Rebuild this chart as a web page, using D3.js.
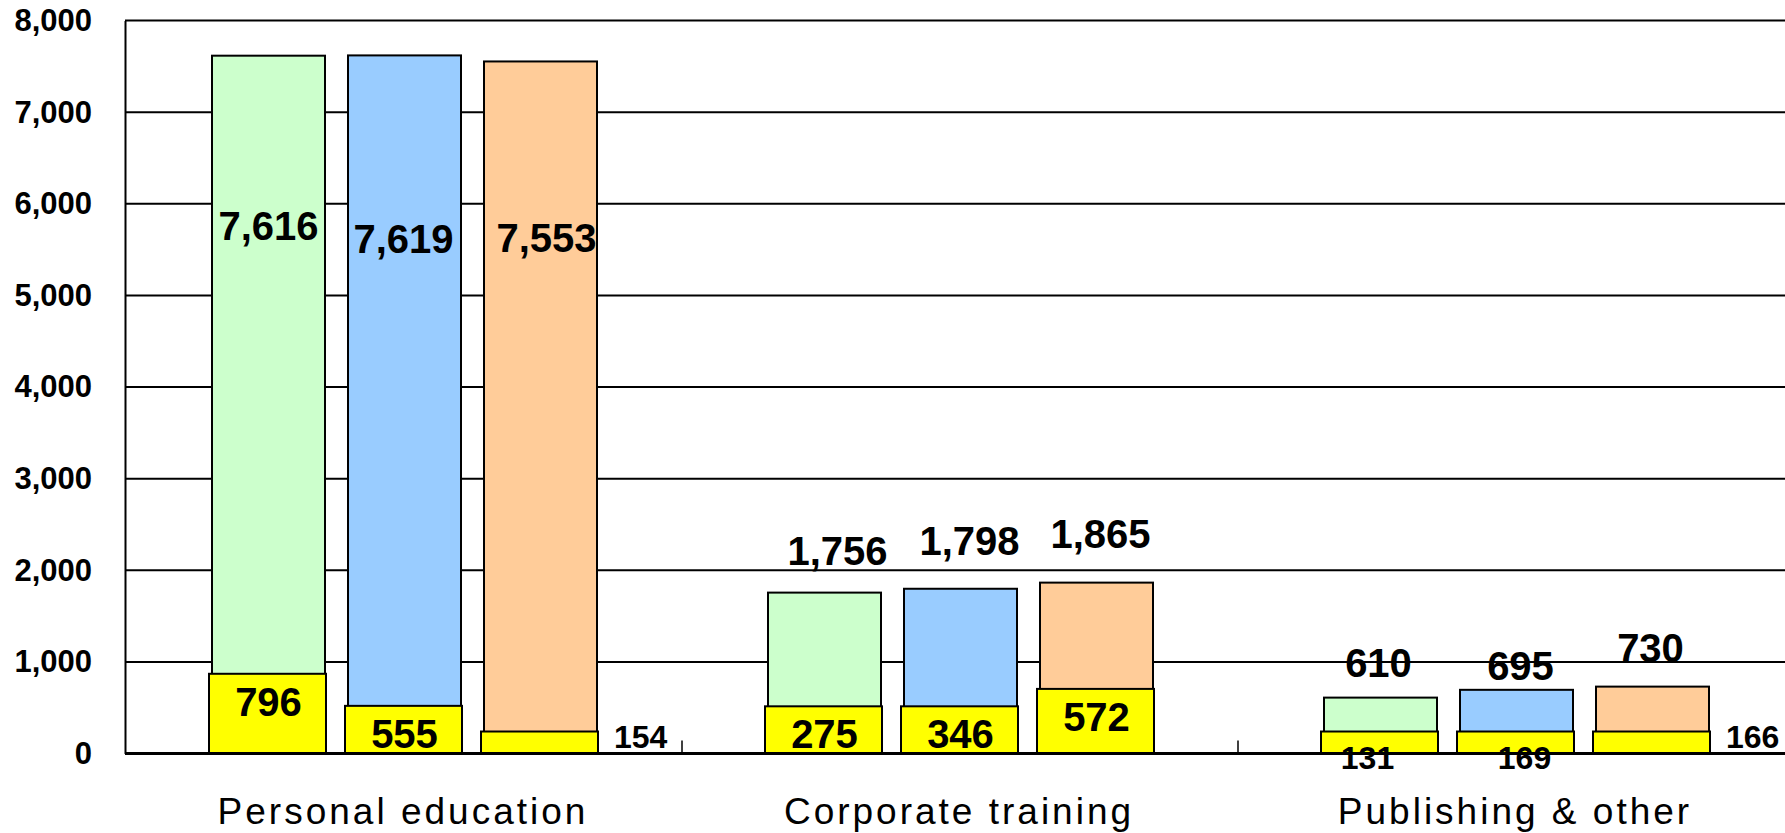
<!DOCTYPE html>
<html>
<head>
<meta charset="utf-8">
<script src="https://cdn.jsdelivr.net/npm/d3@7"></script>
<style>
  body { margin: 0; background: #fff; }
  svg { display: block; font-family: "Liberation Sans", Arial, sans-serif; }
</style>
</head>
<body>
<svg id="chart" width="1785" height="833"></svg>
<script>
// categories and the three series (legend is cut off in the source)
const categories = ["Personal education", "Corporate training", "Publishing & other"];
const seriesKeys = ["s1", "s2", "s3"];
const seriesColors = ["#ccffcc", "#99ccff", "#ffcc99"];

// totals per category, one value per series
const totals = [
  [7616, 7619, 7553],
  [1756, 1798, 1865],
  [610, 695, 730]
];
// yellow sub-part: printed value and the height it is drawn at in the picture
const subLabels = [
  [796, 555, 154],
  [275, 346, 572],
  [131, 169, 166]
];
const subDrawn = [
  [870, 520, 240],
  [515, 515, 705],
  [240, 240, 240]
];
const yTicks = [0, 1000, 2000, 3000, 4000, 5000, 6000, 7000, 8000];

// label nudges [dx, dy] from the bar centre / top (styling only)
const totalNudge = [
  [[0, 184], [-1, 198], [6, 191]],
  [[13, -28], [9, -34], [4, -35]],
  [[-2, -21], [4, -10], [-2, -25]]
];
const subPlace = [
  ["in", "in", "right"],
  ["in", "in", "in"],
  ["below", "below", "right"]
];
const subDx = [
  [0, 0, 0],
  [0, 0, 0],
  [-13, 8, 0]
];

let left = 125, plotRight = 1785, band = 556;
let svg = d3.select("#chart");

let x = d3.scaleBand().domain(categories).range([left, left + 3 * band]);
let xs = d3.scaleBand().domain(seriesKeys).range([87, 472]).paddingInner(23 / 136);
let y = d3.scaleLinear().domain([0, 8000]).range([753.5, 20.5]);
let bw = xs.bandwidth();
let fmt = d3.format(",");

// gridlines
svg.append("g")
  .selectAll("line")
  .data(yTicks.filter(d => d > 0))
  .enter()
  .append("line")
  .attr("x1", left).attr("x2", plotRight)
  .attr("y1", d => y(d)).attr("y2", d => y(d))
  .attr("stroke", "#000").attr("stroke-width", 2);

// y axis
let yAxis = d3.axisLeft(y).tickValues(yTicks).tickSize(0).tickPadding(33)
  .tickFormat(fmt);
let gy = svg.append("g").attr("transform", `translate(${left},0)`).call(yAxis);
gy.select(".domain").attr("stroke", "#000").attr("stroke-width", 2);
gy.selectAll("text")
  .attr("font-family", "Liberation Sans, Arial, sans-serif")
  .attr("font-size", 31).attr("font-weight", "bold").attr("fill", "#000");

// flatten to rows
let rows = [];
categories.forEach((c, i) => {
  seriesKeys.forEach((k, j) => {
    rows.push({ cat: c, key: k, i: i, j: j,
      total: totals[i][j], sub: subLabels[i][j], subH: subDrawn[i][j] });
  });
});
let cx = d => x(d.cat) + xs(d.key) + bw / 2;

// main bars
svg.append("g")
  .selectAll("rect")
  .data(rows)
  .enter()
  .append("rect")
  .attr("x", d => x(d.cat) + xs(d.key))
  .attr("width", bw)
  .attr("y", d => y(d.total))
  .attr("height", d => y(0) - y(d.total))
  .attr("fill", d => seriesColors[d.j])
  .attr("stroke", "#000").attr("stroke-width", 2);

// yellow bars
svg.append("g")
  .selectAll("rect")
  .data(rows)
  .enter()
  .append("rect")
  .attr("x", d => x(d.cat) + xs(d.key) - 3)
  .attr("width", bw + 4)
  .attr("y", d => y(d.subH))
  .attr("height", d => y(0) - y(d.subH))
  .attr("fill", "#ffff00")
  .attr("stroke", "#000").attr("stroke-width", 2);

// x axis line + separators
svg.append("line")
  .attr("x1", left).attr("x2", plotRight)
  .attr("y1", y(0)).attr("y2", y(0))
  .attr("stroke", "#000").attr("stroke-width", 3);
svg.append("g")
  .selectAll("line")
  .data(categories.slice(1))
  .enter()
  .append("line")
  .attr("x1", d => x(d) + 1).attr("x2", d => x(d) + 1)
  .attr("y1", y(0) - 13).attr("y2", y(0))
  .attr("stroke", "#000").attr("stroke-width", 1.5);

// total labels
svg.append("g")
  .selectAll("text")
  .data(rows)
  .enter()
  .append("text")
  .attr("x", d => cx(d) + totalNudge[d.i][d.j][0])
  .attr("y", d => y(d.total) + totalNudge[d.i][d.j][1])
  .attr("text-anchor", "middle")
  .attr("font-size", 40).attr("font-weight", "bold")
  .text(d => fmt(d.total));

// sub labels
svg.append("g")
  .selectAll("text")
  .data(rows)
  .enter()
  .append("text")
  .each(function(d) {
    let mode = subPlace[d.i][d.j];
    let t = d3.select(this);
    if (mode === "in") {
      t.attr("x", cx(d)).attr("y", y(d.subH) + 42)
       .attr("text-anchor", "middle").attr("font-size", 40);
    } else if (mode === "right") {
      t.attr("x", cx(d) + bw / 2 + 17).attr("y", y(0) - 6)
       .attr("text-anchor", "start").attr("font-size", 32);
    } else {
      t.attr("x", cx(d) + subDx[d.i][d.j]).attr("y", y(0) + 15)
       .attr("text-anchor", "middle").attr("font-size", 32);
    }
  })
  .attr("font-weight", "bold")
  .text(d => fmt(d.sub));

// category labels
svg.append("g")
  .selectAll("text")
  .data(categories)
  .enter()
  .append("text")
  .attr("x", d => x(d) + x.bandwidth() / 2)
  .attr("y", 824)
  .attr("text-anchor", "middle")
  .attr("font-size", 37)
  .attr("letter-spacing", 3)
  .text(d => d);
</script>
</body>
</html>
